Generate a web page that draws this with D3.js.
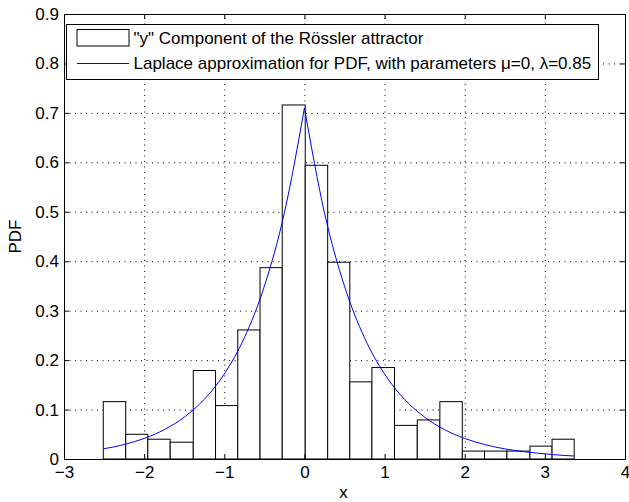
<!DOCTYPE html>
<html>
<head>
<meta charset="utf-8">
<script src="https://cdn.jsdelivr.net/npm/d3@7"></script>
<style>
  body { margin: 0; background: #fff; }
  text { font-family: "Liberation Sans", Arial, Helvetica, sans-serif; }
</style>
</head>
<body>
<div id="chart"></div>
<script>
// bordes de los bins del histograma
const binEdges = [-2.51, -2.23, -1.954, -1.675, -1.387, -1.109, -0.832, -0.554, -0.277, 0.01,
  0.29, 0.566, 0.842, 1.124, 1.408, 1.69, 1.97, 2.247, 2.527, 2.814, 3.09, 3.366];
// altura (PDF) de cada bin
const binPdf = [0.116, 0.05, 0.04, 0.034, 0.179, 0.108, 0.261, 0.387, 0.716, 0.594,
  0.398, 0.156, 0.185, 0.068, 0.079, 0.116, 0.016, 0.016, 0.016, 0.026, 0.04];

// curva laplace, lado izquierdo y derecho del pico
const curveLeftX = [-2.51, -2.25, -2.0, -1.75, -1.5, -1.25, -1.0, -0.75, -0.5, -0.25, 0];
const curveLeftY = [0.0205, 0.0292, 0.0416, 0.0593, 0.0846, 0.1206, 0.1719, 0.2451, 0.3494, 0.498, 0.71];
const curveRightX = [0, 0.25, 0.5, 0.75, 1.0, 1.25, 1.5, 1.75, 2.0, 2.25, 2.5, 2.75, 3.0, 3.25, 3.366];
const curveRightY = [0.71, 0.498, 0.3494, 0.2451, 0.1719, 0.1206, 0.0846, 0.0593, 0.0416, 0.0292, 0.0205, 0.0146, 0.0104, 0.0071, 0.0061];

const xTicks = [-3, -2, -1, 0, 1, 2, 3, 4];
const yTicks = [0, 0.1, 0.2, 0.3, 0.4, 0.5, 0.6, 0.7, 0.8, 0.9];

const legendLabels = ['"y" Component of the Rössler attractor',
  "Laplace approximation for PDF, with parameters \u03bc=0, \u03bb=0.85"];

const totalWidth = 629;
const totalHeight = 502;
const margins = { top: 14, right: 4, bottom: 43, left: 64 };
const chartWidth = totalWidth - margins.left - margins.right;
const chartHeight = totalHeight - margins.top - margins.bottom;

const svg = d3.select("#chart").append("svg")
  .attr("width", totalWidth)
  .attr("height", totalHeight)
  .style("background", "#fff");

const g = svg.append("g").attr("transform", `translate(${margins.left},${margins.top})`);

const x = d3.scaleLinear().domain([-3, 4]).range([0, chartWidth]);
const y = d3.scaleLinear().domain([0, 0.9]).range([chartHeight, 0]);

// rejilla punteada
const gridX = g.append("g")
  .attr("transform", `translate(0,${chartHeight})`)
  .call(d3.axisBottom(x).tickValues(xTicks).tickSize(-chartHeight).tickFormat(""));
const gridY = g.append("g")
  .call(d3.axisLeft(y).tickValues(yTicks).tickSize(-chartWidth).tickFormat(""));
[gridX, gridY].forEach((gr) => {
  gr.select(".domain").remove();
  gr.selectAll("line").attr("stroke", "#000").attr("stroke-width", 1)
    .attr("stroke-dasharray", "1,4.5");
});

// barras
const bins = binPdf.map((v, i) => ({ x0: binEdges[i], x1: binEdges[i + 1], v }));
g.selectAll("rect.bar").data(bins).join("rect")
  .attr("class", "bar")
  .attr("x", (d) => x(d.x0))
  .attr("y", (d) => y(d.v))
  .attr("width", (d) => x(d.x1) - x(d.x0))
  .attr("height", (d) => chartHeight - y(d.v))
  .attr("fill", "#fff")
  .attr("stroke", "#000")
  .attr("stroke-width", 1);

// curva laplace
const line = d3.line().x((d) => x(d[0])).y((d) => y(d[1])).curve(d3.curveMonotoneX);
[[curveLeftX, curveLeftY], [curveRightX, curveRightY]].forEach(([xs, ys]) => {
  g.append("path")
    .datum(xs.map((v, i) => [v, ys[i]]))
    .attr("d", line)
    .attr("fill", "none")
    .attr("stroke", "#0000ff")
    .attr("stroke-width", 1);
});

// ejes con ticks hacia adentro en los cuatro lados
const fontSize = "17px";
const axB = g.append("g").attr("transform", `translate(0,${chartHeight})`)
  .call(d3.axisBottom(x).tickValues(xTicks).tickSize(-5).tickPadding(7).tickFormat(d3.format("d")));
const axL = g.append("g")
  .call(d3.axisLeft(y).tickValues(yTicks).tickSize(-5).tickPadding(5).tickFormat((d) => d === 0 ? "0" : d3.format(".1f")(d)));
const axT = g.append("g")
  .call(d3.axisTop(x).tickValues(xTicks).tickSize(-5).tickFormat(""));
const axR = g.append("g").attr("transform", `translate(${chartWidth},0)`)
  .call(d3.axisRight(y).tickValues(yTicks).tickSize(-5).tickFormat(""));
[axB, axL, axT, axR].forEach((a) => {
  a.select(".domain").attr("stroke", "#000").attr("stroke-width", 1);
  a.selectAll("text").attr("fill", "#000").style("font-size", fontSize)
    .style("font-family", '"Liberation Sans", Arial, sans-serif');
});

// etiquetas de ejes
svg.append("text")
  .attr("x", 343.5)
  .attr("y", 498)
  .attr("text-anchor", "middle")
  .style("font-size", fontSize)
  .text("x");

svg.append("text")
  .attr("transform", `translate(21,${margins.top + chartHeight / 2}) rotate(-90)`)
  .attr("text-anchor", "middle")
  .style("font-size", fontSize)
  .text("PDF");

// leyenda
const legend = svg.append("g").attr("transform", "translate(66.5,24.5)");
legend.append("rect")
  .attr("width", 532).attr("height", 55)
  .attr("fill", "#fff").attr("stroke", "#000").attr("stroke-width", 1);
legend.append("rect")
  .attr("x", 10.5).attr("y", 5).attr("width", 52).attr("height", 16.5)
  .attr("fill", "#fff").attr("stroke", "#000");
legend.append("line")
  .attr("x1", 10.5).attr("x2", 62.5).attr("y1", 39).attr("y2", 39)
  .attr("stroke", "#0000ff");
legend.selectAll("text.lbl").data(legendLabels).join("text")
  .attr("class", "lbl")
  .attr("x", 67)
  .attr("y", (d, i) => 19.5 + i * 25)
  .style("font-size", fontSize)
  .text((d) => d);
</script>
</body>
</html>
